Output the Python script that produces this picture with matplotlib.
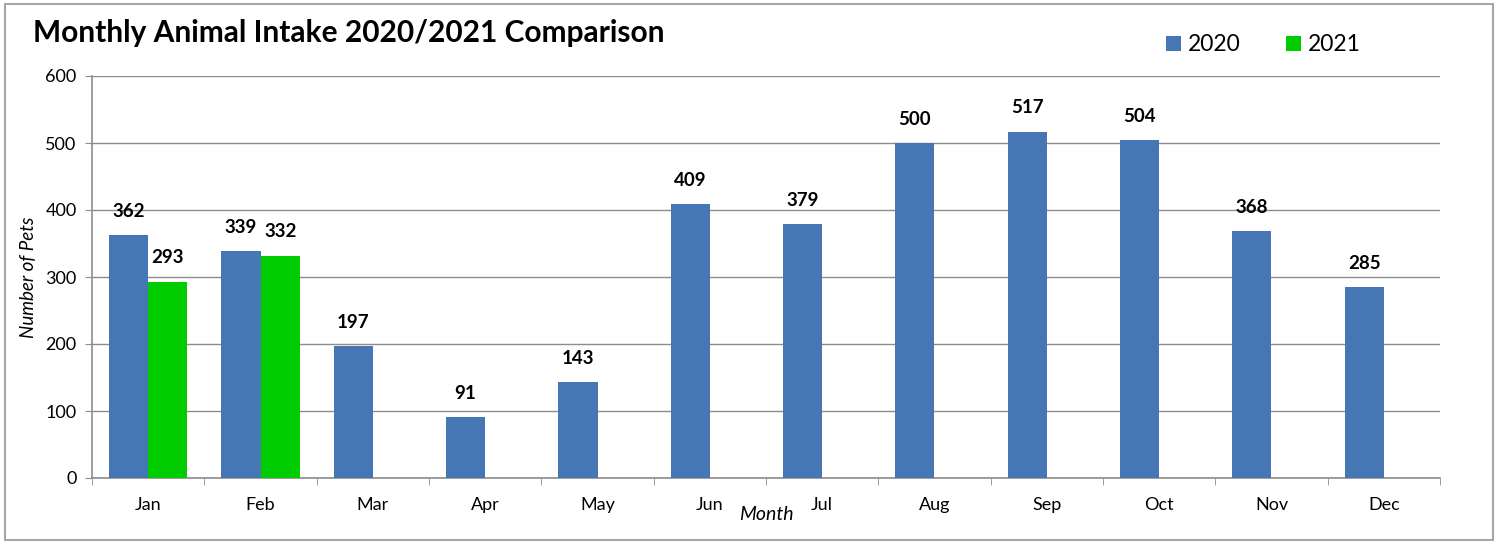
import matplotlib
matplotlib.use("Agg")
import matplotlib.pyplot as plt
import numpy as np
from matplotlib.patches import Rectangle

months = ["Jan", "Feb", "Mar", "Apr", "May", "Jun", "Jul", "Aug", "Sep", "Oct", "Nov", "Dec"]
intake_2020 = [362, 339, 197, 91, 143, 409, 379, 500, 517, 504, 368, 285]
intake_2021 = [293, 332]

BLUE = "#4676b4"
GREEN = "#00cc00"
GRID = "#8c8c8c"

plt.rcParams["font.family"] = ["Lato", "DejaVu Sans"]

fig = plt.figure(figsize=(15.04, 5.46), dpi=100)
ax = fig.add_axes([92 / 1504, 1 - 478 / 546, (1440 - 92) / 1504, (478 - 76) / 546])

# outer chart frame
fig.patches.append(Rectangle((5 / 1504, 6 / 546), 1488 / 1504, 536 / 546, transform=fig.transFigure,
                             fill=False, ec="#a6a6a6", lw=1.5))

x = np.arange(len(months))
w = 0.35
b20 = ax.bar(x[:len(intake_2020)] - w / 2, intake_2020, w, color=BLUE, label="2020", zorder=3)
b21 = ax.bar(x[:len(intake_2021)] + w / 2, intake_2021, w, color=GREEN, label="2021", zorder=3)
for bars in (b20, b21):
    for r in bars:
        ax.annotate(f"{r.get_height():.0f}", (r.get_x() + r.get_width() / 2, r.get_height()),
                    xytext=(0, 11), textcoords="offset points", ha="center", va="bottom",
                    fontsize=13.5, fontweight="bold")

ax.set_xlim(-0.5, len(months) - 0.5)
ax.set_ylim(0, 600)
ax.set_yticks(range(0, 601, 100))
ax.set_xticks(x)
ax.set_xticklabels(months)
ax.set_xticks(np.arange(-0.5, len(months), 1), minor=True)
ax.tick_params(axis="x", which="major", length=0, pad=14, labelsize=13)
ax.tick_params(axis="x", which="minor", length=5, color=GRID, direction="out")
ax.tick_params(axis="y", length=5, color=GRID, labelsize=13, pad=6)
ax.yaxis.grid(True, color=GRID, lw=1, zorder=0)
for s in ("top", "right"):
    ax.spines[s].set_visible(False)
for s in ("left", "bottom"):
    ax.spines[s].set_color(GRID)
    ax.spines[s].set_linewidth(1.2)

ax.set_ylabel("Number of Pets", fontsize=13.5, style="italic", labelpad=6)
ax.set_xlabel("Month", fontsize=14, style="italic", labelpad=-5)

fig.text(33 / 1504, 1 - 33 / 546, "Monthly Animal Intake 2020/2021 Comparison", fontsize=21.5,
         fontweight="bold", va="center", ha="left")
ax.legend(loc="center left", bbox_to_anchor=(1145 / 1504, 1 - 45 / 546), bbox_transform=fig.transFigure,
          ncol=2, frameon=False, fontsize=16.5, handlelength=0.65, handleheight=0.65, handletextpad=0.3,
          columnspacing=2.0)

fig.savefig("out.png", dpi=100)
